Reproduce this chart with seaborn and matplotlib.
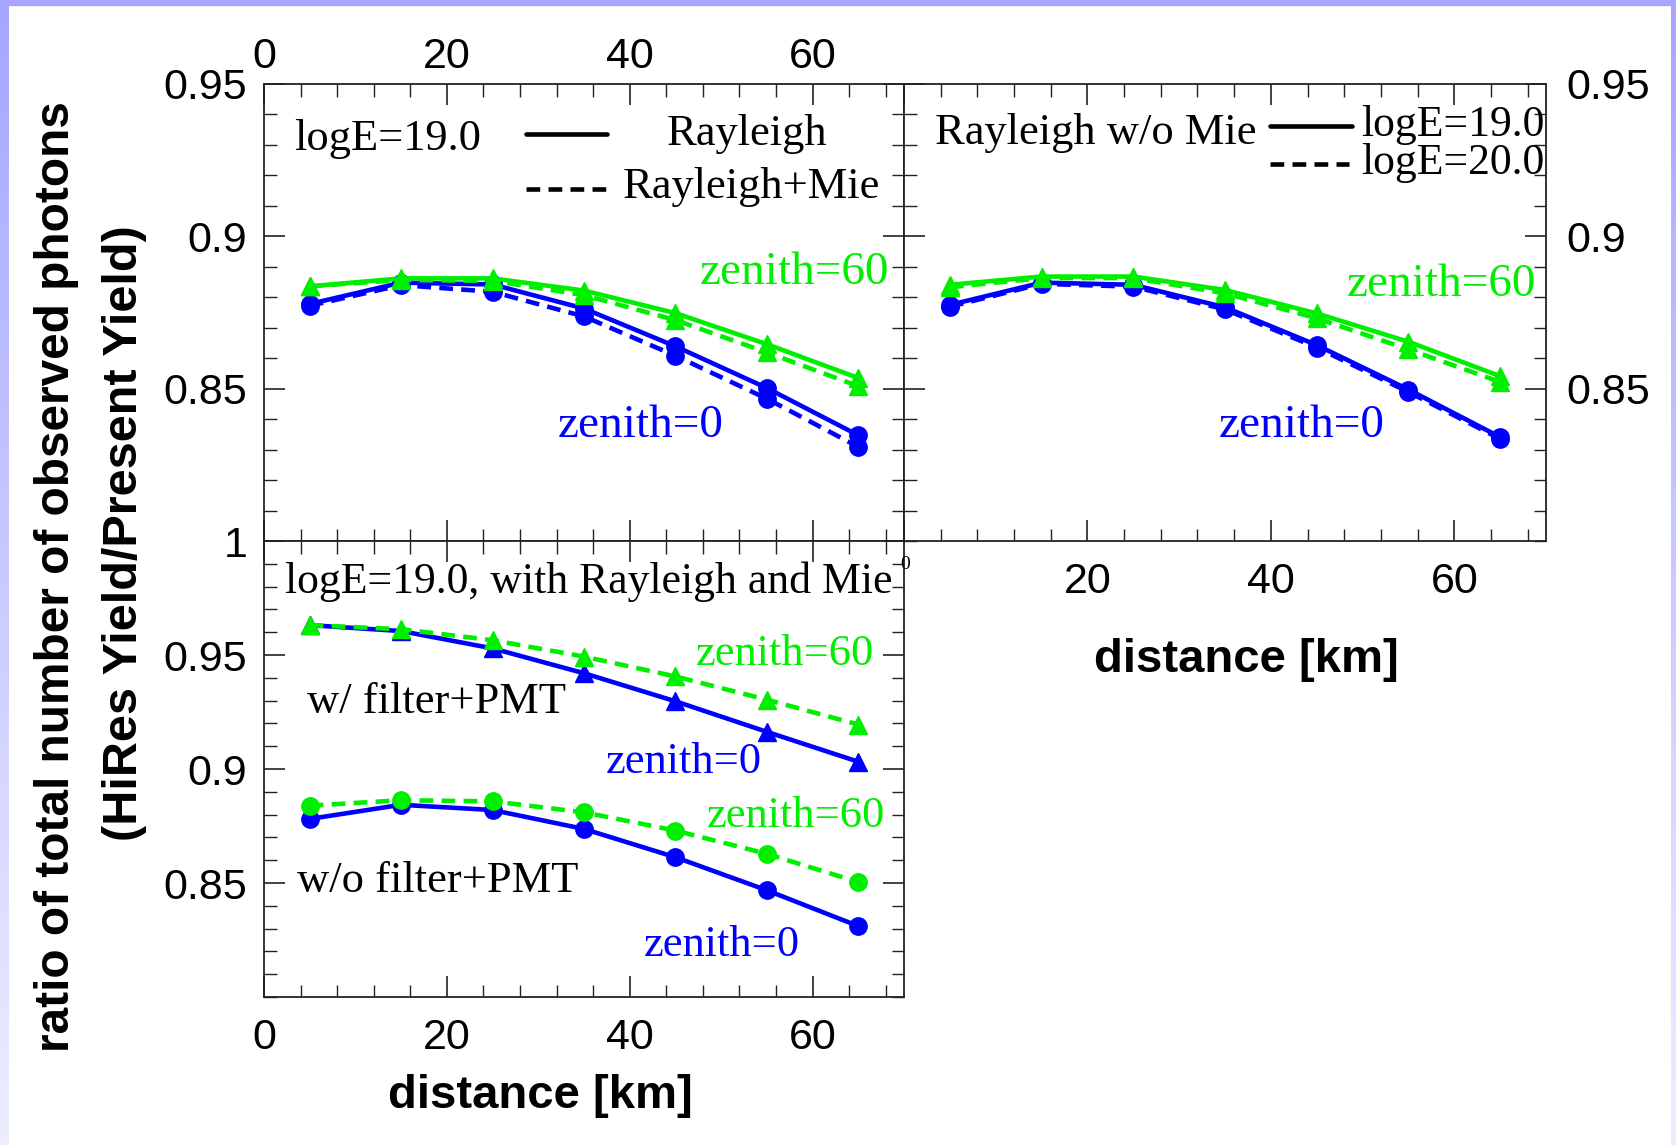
import numpy as np
import pandas as pd
import matplotlib
matplotlib.use("Agg")
import matplotlib.pyplot as plt
import seaborn as sns
from matplotlib.ticker import MultipleLocator, FixedLocator, FixedFormatter

# ---------------- data ----------------
distance = [5, 15, 25, 35, 45, 55, 65]

# top-left: logE=19.0, Rayleigh vs Rayleigh+Mie
tl_ray_z60 = [0.8836, 0.8862, 0.8862, 0.8822, 0.8748, 0.8646, 0.8535]
tl_mie_z60 = [0.8836, 0.8857, 0.8854, 0.8807, 0.8725, 0.8619, 0.8508]
tl_ray_z0 = [0.8778, 0.8848, 0.8842, 0.8763, 0.8639, 0.8502, 0.8347]
tl_mie_z0 = [0.8772, 0.8840, 0.8818, 0.8737, 0.8608, 0.8467, 0.8309]

# top-right: Rayleigh w/o Mie, logE=19.0 vs 20.0
tr_e19_z60 = [0.8841, 0.8868, 0.8868, 0.8824, 0.8747, 0.8654, 0.8541]
tr_e20_z60 = [0.8833, 0.8863, 0.8863, 0.8813, 0.8731, 0.8629, 0.8522]
tr_e19_z0 = [0.8775, 0.8848, 0.8841, 0.8767, 0.8643, 0.8497, 0.8341]
tr_e20_z0 = [0.8769, 0.8844, 0.8835, 0.8760, 0.8635, 0.8489, 0.8335]

# bottom-left: logE=19.0 with Rayleigh and Mie, w/ and w/o filter+PMT
bl_filt_z60 = [0.9631, 0.9613, 0.9565, 0.9493, 0.9406, 0.9304, 0.9195]
bl_filt_z0 = [0.9631, 0.9605, 0.9529, 0.9420, 0.9297, 0.9163, 0.9032]
bl_nofilt_z60 = [0.8839, 0.8863, 0.8858, 0.8810, 0.8730, 0.8628, 0.8504]
bl_nofilt_z0 = [0.8781, 0.8843, 0.8820, 0.8737, 0.8613, 0.8468, 0.8311]

x_ticks = [0, 20, 40, 60]
x_tick_labels = ["0", "20", "40", "60"]
top_y_ticks = [0.85, 0.9, 0.95]
top_y_labels = ["0.85", "0.9", "0.95"]
bl_y_ticks = [0.85, 0.9, 0.95, 1.0]
bl_y_labels = ["0.85", "0.9", "0.95", "1"]

BLUE = "#0000ff"
GREEN = "#00ee00"
SERIF = "Liberation Serif"
SANS = "Liberation Sans"

sns.set_theme(style="ticks")
plt.rcParams["font.family"] = [SANS, "DejaVu Sans"]
plt.rcParams["axes.linewidth"] = 1.3
plt.rcParams["axes.edgecolor"] = "#222222"
plt.rcParams["text.color"] = "black"
plt.rcParams["xtick.labelcolor"] = "black"
plt.rcParams["ytick.labelcolor"] = "black"

W, H = 1676, 1145
fig = plt.figure(figsize=(W / 100, H / 100), dpi=100)
fig.patch.set_facecolor("white")

# decorative slide frame
bg = fig.add_axes([0, 0, 1, 1], zorder=-10)
bg.set_xlim(0, W)
bg.set_ylim(H, 0)
bg.axis("off")
grad = np.linspace(0, 1, 256)[:, None]
c_top = np.array([0.65, 0.65, 1.0])
c_bot = np.array([0.93, 0.93, 1.0])
strip = (c_top[None, None, :] * (1 - grad[..., None]) + c_bot[None, None, :] * grad[..., None])
bg.imshow(strip, extent=[0, 8, H, 0], aspect="auto")
bg.imshow(strip, extent=[W - 5, W, H, 0], aspect="auto")
bg.add_patch(plt.Rectangle((0, 0), W, 5, color=c_top))


def px_axes(x0, y0, x1, y1):
    return fig.add_axes([x0 / W, 1 - y1 / H, (x1 - x0) / W, (y1 - y0) / H])


ax_tl = px_axes(264, 84, 904, 541)
ax_tr = px_axes(904, 84, 1546, 541)
ax_bl = px_axes(264, 541, 904, 997)

LW = 3.3
MS = 12.5
DASH = (0, (3, 1.8))


def series(ax, y, color, marker, dashed):
    df = pd.DataFrame({"distance": distance, "ratio": y})
    sns.lineplot(data=df, x="distance", y="ratio", ax=ax, color=color,
                 marker=marker, markersize=MS, linewidth=LW,
                 linestyle=DASH if dashed else "-",
                 markeredgecolor=color, markeredgewidth=1.0)


def style_axes(ax, ylim):
    ax.set_xlim(0, 70)
    ax.set_ylim(*ylim)
    ax.xaxis.set_minor_locator(MultipleLocator(4))
    ax.yaxis.set_minor_locator(MultipleLocator(0.01))
    ax.tick_params(which="both", direction="in", top=True, bottom=True,
                   left=True, right=True, color="#222222", labelcolor="black")
    ax.tick_params(which="major", length=15, width=1.2)
    ax.tick_params(which="minor", length=9, width=1.0)
    ax.set_xlabel("")
    ax.set_ylabel("")
    ax.set_facecolor("white")


# ---- top-left ----
series(ax_tl, tl_mie_z0, BLUE, "o", True)
series(ax_tl, tl_ray_z0, BLUE, "o", False)
series(ax_tl, tl_mie_z60, GREEN, "^", True)
series(ax_tl, tl_ray_z60, GREEN, "^", False)
style_axes(ax_tl, (0.80, 0.95))
ax_tl.xaxis.set_major_locator(FixedLocator(x_ticks))
ax_tl.xaxis.set_major_formatter(FixedFormatter(x_tick_labels))
ax_tl.yaxis.set_major_locator(FixedLocator(top_y_ticks))
ax_tl.yaxis.set_major_formatter(FixedFormatter(top_y_labels))
ax_tl.tick_params(axis="x", which="major", labeltop=True, labelbottom=False,
                  labelsize=31, pad=5)
ax_tl.tick_params(axis="y", which="major", labelleft=True, labelright=False,
                  labelsize=31, pad=12)

ax_tl.text(0.047, 0.880, "logE=19.0", transform=ax_tl.transAxes, family=SERIF,
           fontsize=32, va="center", ha="left")
ax_tl.plot([0.409, 0.536], [0.890, 0.890], color="black", lw=LW,
           transform=ax_tl.transAxes)
ax_tl.plot([0.409, 0.536], [0.771, 0.771], color="black", lw=LW,
           linestyle=DASH, transform=ax_tl.transAxes)
ax_tl.text(0.629, 0.891, "Rayleigh", transform=ax_tl.transAxes, family=SERIF,
           fontsize=32, va="center", ha="left")
ax_tl.text(0.561, 0.774, "Rayleigh+Mie", transform=ax_tl.transAxes, family=SERIF,
           fontsize=32, va="center", ha="left")
ax_tl.text(68.4, 0.8880, "zenith=60", family=SERIF, fontsize=34, color=GREEN,
           va="center", ha="right")
ax_tl.text(32.1, 0.8378, "zenith=0", family=SERIF, fontsize=34, color=BLUE,
           va="center", ha="left")

# ---- top-right ----
series(ax_tr, tr_e20_z0, BLUE, "o", True)
series(ax_tr, tr_e19_z0, BLUE, "o", False)
series(ax_tr, tr_e20_z60, GREEN, "^", True)
series(ax_tr, tr_e19_z60, GREEN, "^", False)
style_axes(ax_tr, (0.80, 0.95))
ax_tr.xaxis.set_major_locator(FixedLocator(x_ticks))
ax_tr.xaxis.set_major_formatter(FixedFormatter(["", "20", "40", "60"]))
ax_tr.yaxis.set_major_locator(FixedLocator(top_y_ticks))
ax_tr.yaxis.set_major_formatter(FixedFormatter(top_y_labels))
ax_tr.tick_params(axis="x", which="major", labeltop=False, labelbottom=True,
                  labelsize=31, pad=15)
ax_tr.tick_params(axis="y", which="major", labelleft=False, labelright=True,
                  labelsize=31, pad=15)

ax_tr.text(0.048, 0.892, "Rayleigh w/o Mie", transform=ax_tr.transAxes,
           family=SERIF, fontsize=32, va="center", ha="left")
ax_tr.plot([0.570, 0.698], [0.909, 0.909], color="black", lw=LW,
           transform=ax_tr.transAxes)
ax_tr.plot([0.570, 0.693], [0.825, 0.825], color="black", lw=LW,
           linestyle=DASH, transform=ax_tr.transAxes)
ax_tr.text(0.712, 0.910, "logE=19.0", transform=ax_tr.transAxes, family=SERIF,
           fontsize=31.5, va="center", ha="left")
ax_tr.text(0.712, 0.828, "logE=20.0", transform=ax_tr.transAxes, family=SERIF,
           fontsize=31.5, va="center", ha="left")
ax_tr.text(68.95, 0.8841, "zenith=60", family=SERIF, fontsize=34, color=GREEN,
           va="center", ha="right")
ax_tr.text(34.3, 0.8378, "zenith=0", family=SERIF, fontsize=34, color=BLUE,
           va="center", ha="left")

# ---- bottom-left ----
series(ax_bl, bl_nofilt_z0, BLUE, "o", False)
series(ax_bl, bl_nofilt_z60, GREEN, "o", True)
series(ax_bl, bl_filt_z0, BLUE, "^", False)
series(ax_bl, bl_filt_z60, GREEN, "^", True)
style_axes(ax_bl, (0.80, 1.00))
ax_bl.xaxis.set_major_locator(FixedLocator(x_ticks))
ax_bl.xaxis.set_major_formatter(FixedFormatter(x_tick_labels))
ax_bl.yaxis.set_major_locator(FixedLocator(bl_y_ticks))
ax_bl.yaxis.set_major_formatter(FixedFormatter(bl_y_labels))
ax_bl.tick_params(axis="x", which="major", labeltop=False, labelbottom=True,
                  labelsize=31, pad=15)
ax_bl.tick_params(axis="y", which="major", labelleft=True, labelright=False,
                  labelsize=31, pad=12)

ax_bl.text(2.3, 0.9822, "logE=19.0, with Rayleigh and Mie", family=SERIF,
           fontsize=31.5, va="center", ha="left")
ax_bl.text(66.7, 0.9505, "zenith=60", family=SERIF, fontsize=32, color=GREEN,
           va="center", ha="right")
ax_bl.text(4.7, 0.9295, "w/ filter+PMT", family=SERIF, fontsize=32,
           va="center", ha="left")
ax_bl.text(37.4, 0.9029, "zenith=0", family=SERIF, fontsize=32, color=BLUE,
           va="center", ha="left")
ax_bl.text(67.9, 0.8795, "zenith=60", family=SERIF, fontsize=32, color=GREEN,
           va="center", ha="right")
ax_bl.text(3.6, 0.8510, "w/o filter+PMT", family=SERIF, fontsize=32,
           va="center", ha="left")
ax_bl.text(41.5, 0.8230, "zenith=0", family=SERIF, fontsize=32, color=BLUE,
           va="center", ha="left")

# stray tiny "0" tick label of the top-right panel
fig.text(905 / W, 1 - 564 / H, "0", family=SERIF, fontsize=14,
         ha="center", va="center")

# axis titles
fig.text(540 / W, 1 - 1096 / H, "distance [km]", fontsize=34, fontweight="bold",
         ha="center", va="center")
fig.text(1246 / W, 1 - 660 / H, "distance [km]", fontsize=34, fontweight="bold",
         ha="center", va="center")
fig.text(57 / W, 1 - 577 / H, "ratio of total number of observed photons",
         fontsize=34.4, fontweight="bold", rotation=90, ha="center", va="center")
fig.text(125 / W, 1 - 533 / H, "(HiRes Yield/Present Yield)",
         fontsize=35, fontweight="bold", rotation=90, ha="center", va="center")

fig.savefig("out.png", dpi=100)
